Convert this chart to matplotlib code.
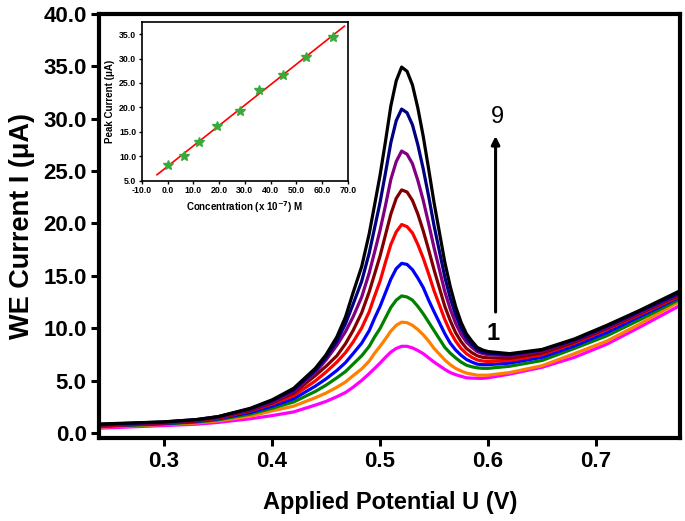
import numpy as np
import matplotlib
matplotlib.use("Agg")
import matplotlib.pyplot as plt
from matplotlib.ticker import FormatStrFormatter

plt.rcParams['font.family'] = ['Liberation Sans', 'DejaVu Sans']
plt.rcParams['font.weight'] = 'bold'

# applied potential (V), shared by all curves
potential = [0.24, 0.30, 0.33, 0.35, 0.38, 0.40, 0.42, 0.44, 0.45, 0.46,
             0.468, 0.475, 0.483, 0.49, 0.495, 0.50, 0.505, 0.51, 0.515, 0.52,
             0.525, 0.53, 0.535, 0.54, 0.545, 0.55, 0.56, 0.565, 0.57, 0.575,
             0.58, 0.585, 0.59, 0.595, 0.60, 0.62, 0.65, 0.68, 0.71, 0.74,
             0.778]

# current (uA) for curves 1..9
curve1 = [0.50, 0.75, 0.88, 1.05, 1.40, 1.70, 2.05, 2.70, 3.05, 3.50,
          3.90, 4.40, 5.05, 5.70, 6.20, 6.70, 7.25, 7.75, 8.10, 8.30,
          8.30, 8.15, 7.90, 7.60, 7.20, 6.80, 6.10, 5.80, 5.60, 5.45,
          5.30, 5.27, 5.25, 5.25, 5.30, 5.65, 6.30, 7.25, 8.50, 10.10,
          12.20]
curve2 = [0.60, 0.85, 1.00, 1.20, 1.65, 2.15, 2.60, 3.40, 3.85, 4.40,
          4.90, 5.50, 6.15, 6.90, 7.65, 8.30, 9.00, 9.75, 10.30, 10.60,
          10.55, 10.30, 9.90, 9.40, 8.80, 8.10, 7.00, 6.55, 6.20, 5.95,
          5.75, 5.65, 5.55, 5.55, 5.55, 5.80, 6.45, 7.60, 8.80, 10.40,
          12.60]
curve3 = [0.65, 0.90, 1.08, 1.30, 1.85, 2.40, 3.00, 4.00, 4.60, 5.30,
          5.90, 6.60, 7.40, 8.30, 9.20, 10.00, 11.00, 12.00, 12.70, 13.10,
          13.00, 12.70, 12.10, 11.40, 10.60, 9.80, 8.20, 7.65, 7.20, 6.80,
          6.50, 6.35, 6.25, 6.20, 6.20, 6.40, 6.95, 8.10, 9.30, 10.80,
          12.80]
curve4 = [0.70, 0.95, 1.15, 1.40, 2.00, 2.60, 3.30, 4.50, 5.20, 6.00,
          6.75, 7.60, 8.60, 9.80, 11.00, 12.10, 13.40, 14.70, 15.70, 16.20,
          16.10, 15.60, 14.80, 13.90, 12.70, 11.60, 9.50, 8.60, 7.95, 7.45,
          7.05, 6.80, 6.60, 6.55, 6.55, 6.70, 7.25, 8.35, 9.60, 11.10,
          13.00]
curve5 = [0.70, 1.00, 1.20, 1.45, 2.15, 2.80, 3.60, 5.00, 5.85, 6.80,
          7.70, 8.70, 10.05, 11.60, 13.10, 14.50, 16.30, 18.00, 19.20, 19.90,
          19.70, 19.10, 18.00, 16.70, 15.20, 13.60, 10.85, 9.70, 8.80, 8.10,
          7.60, 7.25, 7.00, 6.90, 6.85, 6.95, 7.50, 8.60, 9.90, 11.30,
          13.10]
curve6 = [0.75, 1.00, 1.22, 1.50, 2.20, 2.90, 3.85, 5.50, 6.40, 7.40,
          8.55, 9.80, 11.50, 13.50, 15.20, 16.90, 18.90, 20.90, 22.40, 23.20,
          23.00, 22.20, 20.90, 19.30, 17.50, 15.60, 12.10, 10.75, 9.60, 8.75,
          8.10, 7.70, 7.40, 7.25, 7.20, 7.15, 7.65, 8.70, 10.00, 11.40,
          13.20]
curve7 = [0.80, 1.05, 1.27, 1.55, 2.30, 3.00, 4.00, 5.80, 7.00, 8.40,
          9.70, 11.10, 13.00, 15.30, 17.30, 19.35, 21.70, 24.20, 25.90, 26.90,
          26.60, 25.70, 24.10, 22.20, 20.00, 17.70, 13.50, 11.85, 10.50, 9.45,
          8.70, 8.20, 7.80, 7.60, 7.50, 7.40, 7.85, 8.85, 10.10, 11.50,
          13.30]
curve8 = [0.85, 1.10, 1.32, 1.60, 2.35, 3.10, 4.15, 6.00, 7.25, 8.80,
          10.45, 12.30, 14.50, 17.20, 19.60, 22.00, 24.80, 27.70, 29.80, 30.90,
          30.55, 29.40, 27.50, 25.20, 22.60, 19.80, 14.90, 12.90, 11.30, 10.05,
          9.10, 8.50, 8.00, 7.75, 7.65, 7.50, 7.95, 8.90, 10.20, 11.60,
          13.40]
curve9 = [0.90, 1.10, 1.32, 1.60, 2.40, 3.20, 4.30, 6.20, 7.50, 9.20,
          11.10, 13.40, 15.90, 19.05, 21.80, 24.60, 27.80, 31.20, 33.60, 34.90,
          34.50, 33.20, 31.00, 28.30, 25.20, 22.00, 16.30, 14.00, 12.10, 10.60,
          9.50, 8.80, 8.20, 7.95, 7.80, 7.60, 8.00, 9.00, 10.30, 11.70,
          13.60]

curves = [curve1, curve2, curve3, curve4, curve5, curve6, curve7, curve8, curve9]
colors = ['#ff00ff', '#ff8000', '#008000', '#0000ff', '#ff0000',
          '#800000', '#800080', '#000080', '#000000']

# inset: peak current vs concentration
conc = [0.0, 6.4, 12.1, 19.2, 28.0, 35.6, 44.6, 53.8, 64.1]
peak = [8.2, 10.1, 13.0, 16.2, 19.2, 23.5, 26.7, 30.4, 34.5]
fit_x = [-4.1, 68.6]

fig = plt.figure(figsize=(6.85, 5.21), dpi=100)
ax = fig.add_axes([0.145, 0.159, 0.848, 0.815])

# draw lowest first so black ends on top
for y, c in zip(curves, colors):
    ax.plot(potential, y, color=c, lw=2.3, solid_joinstyle='round')

ax.set_xlim(0.24, 0.778)
ax.set_ylim(-0.45, 40)
ax.set_xticks([0.3, 0.4, 0.5, 0.6, 0.7])
ax.set_yticks(np.arange(0, 40.1, 5))
ax.yaxis.set_major_formatter(FormatStrFormatter('%.1f'))
ax.tick_params(direction='out', length=6, width=2.2, labelsize=16, pad=3)
for s in ax.spines.values():
    s.set_linewidth(3)
ax.set_xlabel('Applied Potential U (V)', fontsize=17, fontweight='bold', labelpad=14)
ax.set_ylabel('WE Current I (\u03bcA)', fontsize=19.5, fontweight='bold', labelpad=6)

# arrow 1 -> 9
ax.annotate('', xy=(0.607, 28.6), xytext=(0.607, 11.3),
            arrowprops=dict(arrowstyle='-|>', lw=2.2, color='black', mutation_scale=12))
ax.text(0.605, 9.5, '1', fontsize=17, fontweight='bold', ha='center', va='center')
ax.text(0.609, 30.1, '9', fontsize=17, fontweight='normal', ha='center', va='center')

# inset
ins = fig.add_axes([0.207, 0.653, 0.301, 0.305])
ins.plot(conc, peak, ls='none', marker='*', ms=7, color='#3aa83a', zorder=3)
k, b = np.polyfit(conc, peak, 1)
fx = np.array(fit_x)
ins.plot(fx, k * fx + b, color='#ff0000', lw=1.2)
ins.set_xlim(-10, 70)
ins.set_ylim(5, 37.5)
ins.set_xticks(np.arange(-10, 70.1, 10))
ins.set_yticks(np.arange(5, 35.1, 5))
ins.xaxis.set_major_formatter(FormatStrFormatter('%.1f'))
ins.yaxis.set_major_formatter(FormatStrFormatter('%.1f'))
ins.tick_params(direction='out', length=2.5, width=1, labelsize=6.3, pad=1.5)
for s in ins.spines.values():
    s.set_linewidth(1.2)
ins.set_xlabel('Concentration (x 10$^{\\mathbf{-7}}$) M', fontsize=7, fontweight='bold', labelpad=3)
ins.set_ylabel('Peak Current (\u03bcA)', fontsize=7, fontweight='bold', labelpad=3)

fig.savefig('out.png', dpi=100)
